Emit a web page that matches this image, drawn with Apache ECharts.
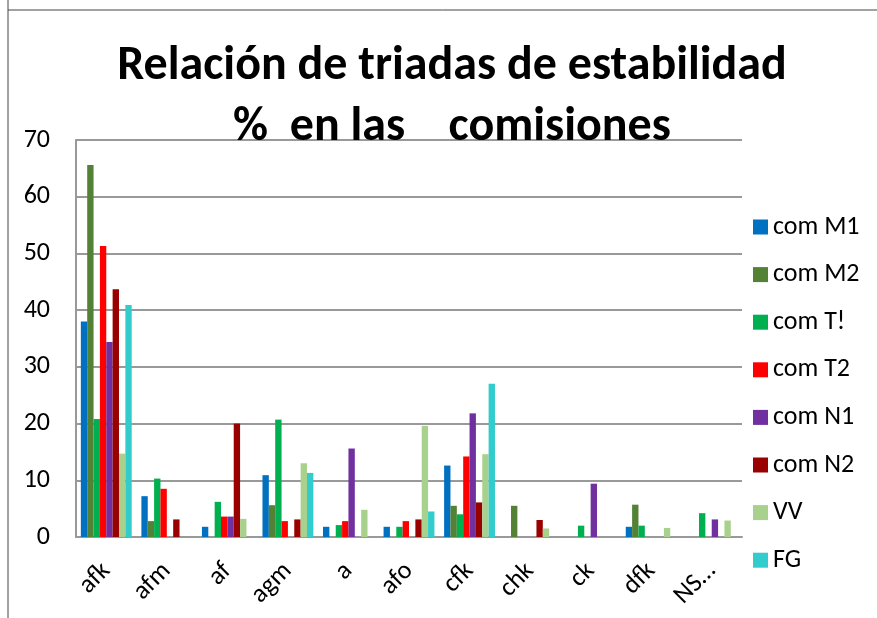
<!DOCTYPE html>
<html><head><meta charset="utf-8">
<script src="https://cdn.jsdelivr.net/npm/echarts@6/dist/echarts.min.js"></script>
<style>html,body{margin:0;padding:0;background:#fff}#c{width:877px;height:618px}</style>
</head><body><div id="c"></div>
<script>
const categories = ['afk','afm','af','agm','a','afo','cfk','chk','ck','dfk','NS…'];
const seriesNames = ['com M1','com M2','com T!','com T2','com N1','com N2','VV','FG'];
const comM1 = [38,   7.2, 1.8, 10.9, 1.8, 1.8, 12.6, 0,   0,   1.8, 0];
const comM2 = [65.6, 2.8, 0,   5.6,  0,   0,   5.5,  5.5, 0,   5.7, 0];
const comT1 = [20.8, 10.3,6.2, 20.7, 2.1, 1.8, 4.0,  0,   2.0, 2.0, 4.2];
const comT2 = [51.3, 8.5, 3.6, 2.8,  2.8, 2.8, 14.2, 0,   0,   0,   0];
const comN1 = [34.4, 0,   3.6, 0,    15.6,0,   21.8, 0,   9.4, 0,   3.1];
const comN2 = [43.7, 3.1, 20,  3.1,  0,   3.1, 6.1,  3.0, 0,   0,   0];
const vv    = [14.7, 0,   3.2, 13.0, 4.8, 19.6,14.6, 1.5, 0,   1.6, 2.9];
const fg    = [40.9, 0,   0,   11.3, 0,   4.5, 27.0, 0,   0,   0,   0];
const yTicks = [0,10,20,30,40,50,60,70];
const seriesData = [comM1, comM2, comT1, comT2, comN1, comN2, vv, fg];
const colors = ['#0070C0','#538135','#00B050','#FF0000','#7030A0','#990000','#A9D18E','#33CCCC'];

const chart = echarts.init(document.getElementById('c'), null, {renderer:'canvas'});
const font = "Carlito, 'Liberation Sans', sans-serif";
chart.setOption({
  animation:false,
  backgroundColor:'#fff',
  color: colors,
  title:{
    text:'Relación de triadas de estabilidad\n%  en las    comisiones',
    left:447, top:31, textAlign:'center',
    textStyle:{fontFamily:font, fontWeight:'bold', fontSize:48, lineHeight:61, color:'#000'}
  },
  legend:{
    orient:'vertical', left:748, top:209,
    itemWidth:15, itemHeight:15, itemGap:21.6, icon:'rect',
    textStyle:{fontFamily:font, fontSize:26, color:'#000', lineHeight:26},
    data: seriesNames
  },
  grid:{left:76, right:135, top:140, bottom:81, containLabel:false},
  xAxis:{
    type:'category', data:categories,
    axisLine:{lineStyle:{color:'#999', width:2}},
    axisTick:{show:false},
    axisLabel:{rotate:45, fontFamily:font, fontSize:26, color:'#000', margin:30}
  },
  yAxis:{
    type:'value', min:0, max:70, interval:10,
    axisLine:{show:true, lineStyle:{color:'#999', width:2}},
    axisTick:{show:false},
    axisLabel:{fontFamily:font, fontSize:26, color:'#000', margin:26,
      formatter: v => yTicks.includes(v) ? String(v) : ''},
    splitLine:{lineStyle:{color:'#999', width:2}}
  },
  graphic:[
    {type:'line', shape:{x1:8, y1:0, x2:8, y2:618}, style:{stroke:'#444', lineWidth:1}},
    {type:'line', shape:{x1:8, y1:10, x2:877, y2:10}, style:{stroke:'#444', lineWidth:1}}
  ],
  series: seriesNames.map((n,i)=>({
    name:n, type:'bar', data:seriesData[i],
    barGap:'0%', barCategoryGap:'16%',
    itemStyle:{color:colors[i]}
  }))
});
</script></body></html>
